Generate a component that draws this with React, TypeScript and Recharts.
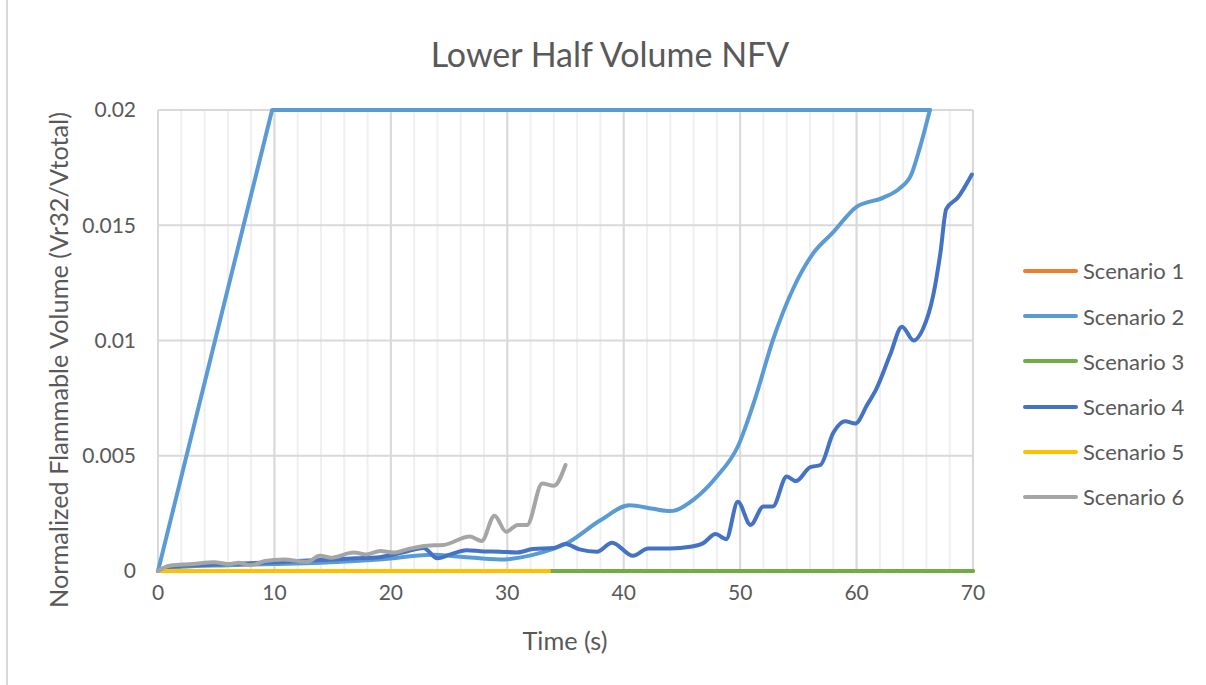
import React from 'react';
import { LineChart, Line, XAxis, YAxis, CartesianGrid, Legend } from 'recharts';

// ---- data ----
const xTicks = [0, 10, 20, 30, 40, 50, 60, 70];
const xMinorTicks = [0, 2, 4, 6, 8, 10, 12, 14, 16, 18, 20, 22, 24, 26, 28, 30, 32, 34, 36, 38, 40, 42, 44, 46, 48, 50, 52, 54, 56, 58, 60, 62, 64, 66, 68, 70];
const yTicks = [0, 0.005, 0.01, 0.015, 0.02];
const xDomain = [0, 70];

const s1T = [0, 70];
const s1V = [0, 0];

const s2UpperT = [0, 9.8, 66.3];
const s2UpperV = [0, 0.02, 0.02];

const s2T = [0, 2, 6, 10, 14, 19, 23.6, 26, 29.4, 32.2, 35.1, 38, 40.5, 42.5, 44, 46, 48, 49.8, 51.3, 52.8, 54.6, 56.3, 58, 60, 62.3, 63.7, 64.7, 65.4, 66.3];
const s2V = [0, 0.00018, 0.00025, 0.0003, 0.00036, 0.0005, 0.0007, 0.00062, 0.0005, 0.0007, 0.0012, 0.0022, 0.00285, 0.0027, 0.0026, 0.0031, 0.0041, 0.0054, 0.0075, 0.01, 0.0123, 0.0138, 0.0147, 0.0158, 0.0162, 0.0166, 0.0172, 0.0183, 0.02];

const s3T = [0, 70];
const s3V = [0, 0];

const s4T = [0, 1, 3, 6, 10, 14, 17, 19, 21, 22.8, 24, 25, 26.5, 28, 29.4, 30.8, 32.2, 34, 35, 36.2, 37.7, 39, 40.8, 42.1, 44, 45.7, 46.8, 47.9, 48.8, 49.8, 50.9, 52, 52.8, 54, 54.8, 56, 56.9, 58, 59, 59.9, 60.9, 61.7, 62.9, 63.9, 64.9, 65.7, 66.6, 67.2, 67.7, 68.7, 69.9];
const s4V = [0, 0.00018, 0.00025, 0.0003, 0.00038, 0.00048, 0.00055, 0.0006, 0.0008, 0.001, 0.00055, 0.0007, 0.0009, 0.00085, 0.00084, 0.0008, 0.00095, 0.001, 0.00117, 0.00094, 0.00084, 0.00123, 0.00066, 0.00098, 0.00098, 0.00105, 0.0012, 0.0016, 0.00138, 0.003, 0.002, 0.0028, 0.0028, 0.0041, 0.0039, 0.0045, 0.0046, 0.006, 0.0065, 0.0064, 0.0072, 0.0079, 0.0094, 0.0106, 0.01, 0.0105, 0.012, 0.0138, 0.0157, 0.0162, 0.0172];

const s5T = [0, 33.6];
const s5V = [0, 0];

const s6T = [0, 1, 3, 4.8, 6.2, 6.9, 7.9, 9.2, 10.8, 12.8, 13.9, 14.9, 16.8, 17.9, 19.1, 20.2, 21.5, 23.1, 24.5, 26.8, 27.8, 28.9, 29.9, 30.9, 31.7, 33, 34, 35];
const s6V = [0, 0.00023, 0.0003, 0.00038, 0.0003, 0.00036, 0.00025, 0.00043, 0.0005, 0.0004, 0.00066, 0.00058, 0.0008, 0.00072, 0.00087, 0.0008, 0.00095, 0.0011, 0.00113, 0.0015, 0.0013, 0.0024, 0.0017, 0.002, 0.002, 0.0038, 0.0037, 0.0046];

const seriesNames = ['Scenario 1', 'Scenario 2', 'Scenario 3', 'Scenario 4', 'Scenario 5', 'Scenario 6'];
const seriesColors = ['#ED7D31', '#5B9BD5', '#70AD47', '#4472C4', '#FFC000', '#A5A5A5'];

const zip = (t: number[], v: number[]) => t.map((x, i) => ({ t: x, v: v[i] }));

const FONT = 'Lato, "Open Sans", sans-serif';
const TEXT = '#595959';

const LegendContent = (props: any) => {
  const items = (props.payload || []).filter((p: any) => p.type !== 'none');
  return (
    <div style={{ fontFamily: FONT, whiteSpace: 'nowrap', width: 180 }}>
      {items.map((p: any) => (
        <div key={p.value} style={{ height: 45.2, display: 'flex', alignItems: 'center' }}>
          <div style={{ width: 55, minWidth: 55, flexShrink: 0, height: 4, background: p.color, borderRadius: 2 }} />
          <span style={{ marginLeft: 5, fontSize: 22, color: TEXT }}>{p.value}</span>
        </div>
      ))}
    </div>
  );
};

const minorGen = (props: any) => {
  const scale = props?.xAxis?.scale;
  const mapT = (t: number): number => {
    if (typeof scale === 'function') return scale(t);
    if (scale && typeof scale.map === 'function') return scale.map(t);
    const off = props.offset;
    return off.left + ((t - xDomain[0]) / (xDomain[1] - xDomain[0])) * off.width;
  };
  try {
    return xMinorTicks.map(mapT).filter((v) => typeof v === 'number' && !isNaN(v));
  } catch (e) {
    return [];
  }
};

export default function App() {
  const lineProps = { dataKey: 'v', dot: false, activeDot: false, isAnimationActive: false, strokeWidth: 4, strokeLinecap: 'round' as const, strokeLinejoin: 'round' as const };
  return (
    <div style={{ position: 'absolute', left: 0, top: 0, width: 1206, height: 685, background: '#fff', fontFamily: FONT, overflow: 'hidden' }}>
      <div style={{ position: 'absolute', left: 6, top: 0, width: 0, height: 685, borderLeft: '2px solid #d9d9d9' }} />
      <div style={{ position: 'absolute', left: 310, top: 37, width: 600, textAlign: 'center', fontSize: 34, lineHeight: '34px', color: TEXT }}>
        Lower Half Volume NFV
      </div>
      <div style={{ position: 'absolute', left: 58 - 300, top: 360 - 13, width: 600, height: 26, lineHeight: '26px', fontSize: 25.3, color: TEXT, textAlign: 'center', transform: 'rotate(-90deg)', whiteSpace: 'nowrap' }}>
        Normalized Flammable Volume (Vr32/Vtotal)
      </div>
      <div style={{ position: 'absolute', left: 565 - 100, top: 628, width: 200, textAlign: 'center', fontSize: 25.3, lineHeight: '25px', color: TEXT }}>
        Time (s)
      </div>
      <LineChart width={1206} height={685} margin={{ top: 110, right: 233, bottom: 74, left: 0 }}>
        <CartesianGrid horizontal={false} vertical stroke="#efefef" strokeWidth={2} verticalCoordinatesGenerator={minorGen} />
        <CartesianGrid horizontal vertical stroke="#d9d9d9" strokeWidth={2} />
        <XAxis type="number" dataKey="t" domain={xDomain} ticks={xTicks} axisLine={false} tickLine={false} tickSize={0} tickMargin={14} height={40} tick={{ fill: TEXT, fontSize: 21, fontFamily: FONT }} />
        <YAxis type="number" domain={[0, 0.02]} ticks={yTicks} width={158} axisLine={false} tickLine={false} tickSize={0} tickMargin={22} tick={{ fill: TEXT, fontSize: 21, fontFamily: FONT }} />
        <Legend layout="horizontal" verticalAlign="middle" align="right" content={<LegendContent />} wrapperStyle={{ position: 'absolute', left: 1023, top: 248.4, width: 0, height: 0, overflow: 'visible' }} />
        <Line {...lineProps} data={zip(s1T, s1V)} name={seriesNames[0]} stroke={seriesColors[0]} type="linear" />
        <Line {...lineProps} data={zip(s2UpperT, s2UpperV)} name={seriesNames[1]} stroke={seriesColors[1]} type="linear" />
        <Line {...lineProps} data={zip(s2T, s2V)} name="Scenario 2 (curve)" legendType="none" stroke={seriesColors[1]} type="monotone" />
        <Line {...lineProps} data={zip(s3T, s3V)} name={seriesNames[2]} stroke={seriesColors[2]} type="linear" />
        <Line {...lineProps} data={zip(s4T, s4V)} name={seriesNames[3]} stroke={seriesColors[3]} type="monotone" />
        <Line {...lineProps} data={zip(s5T, s5V)} name={seriesNames[4]} stroke={seriesColors[4]} type="linear" />
        <Line {...lineProps} data={zip(s6T, s6V)} name={seriesNames[5]} stroke={seriesColors[5]} type="monotone" />
      </LineChart>
    </div>
  );
}
